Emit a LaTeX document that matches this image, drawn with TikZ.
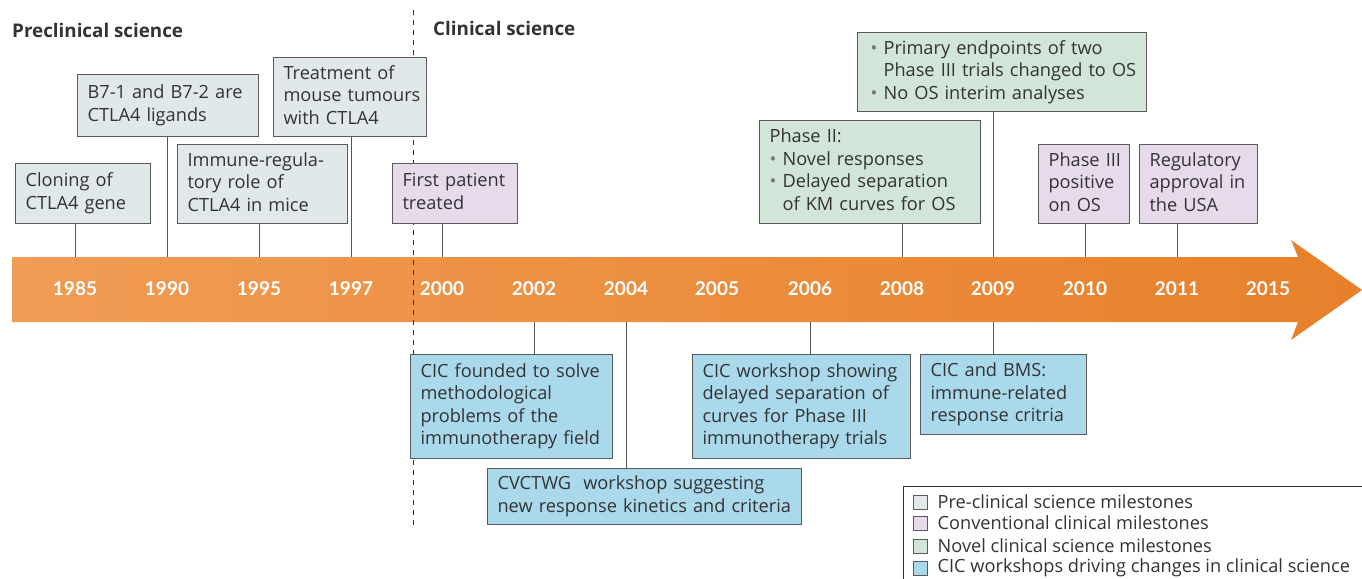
\documentclass[tikz,border=0pt]{standalone}
\usepackage{fontspec}
\setmainfont{Open Sans}
\newfontfamily\yearfam{Lato}
\usetikzlibrary{positioning}

\definecolor{preclin}{HTML}{E0E8E9}
\definecolor{conv}{HTML}{E6DAEB}
\definecolor{novel}{HTML}{D1E6D8}
\definecolor{cic}{HTML}{ABD9EC}
\definecolor{boxline}{HTML}{5A5A5A}
\definecolor{txtgray}{HTML}{333333}
\definecolor{stemgray}{HTML}{555555}
\definecolor{bulgray}{HTML}{777777}
\definecolor{bandL}{HTML}{F09C55}
\definecolor{bandR}{HTML}{E8802A}

\newcommand{\boxfont}{\fontsize{18.2}{22.5}\selectfont}
\newcommand{\yearfont}{\yearfam\fontsize{19}{20}\selectfont\bfseries}
\newcommand{\bul}{\makebox[13pt][l]{\textcolor{bulgray}{\textbullet}}}
\newcommand{\lines}[1]{\noindent\begin{tabular}{@{}l@{}}#1\end{tabular}}

\tikzset{
  milebox/.style={draw=boxline, line width=1.1pt, anchor=north west, align=left,
    inner xsep=10pt, inner ysep=0pt, font=\boxfont, text=txtgray},
  stem/.style={draw=stemgray, line width=1pt},
  yearlab/.style={font=\yearfont, text=white, inner sep=0pt},
  header/.style={font=\fontsize{18.8}{20}\selectfont\bfseries, text=txtgray, anchor=west, inner sep=0pt},
  divider/.style={draw=txtgray, line width=0.9pt, dash pattern=on 5pt off 5pt},
  legsq/.style={draw=boxline, line width=0.9pt, minimum size=14pt, inner sep=0pt},
  legtext/.style={font=\boxfont, text=txtgray, inner sep=0pt, anchor=west}
}

\begin{document}
\begin{tikzpicture}[x=1pt,y=-1pt]
  \useasboundingbox (0,0) rectangle (1362,578);

  % Timeline band
  \shade[left color=bandL, right color=bandR]
    (12,257) -- (1298,257) -- (1291,240) -- (1362,290) -- (1291,340) -- (1298,322) -- (12,322) -- cycle;
  \coordinate (bandtop) at (0,257);
  \coordinate (bandbot) at (0,322);

  % Years
  \foreach \yr/\xx in {1985/75, 1990/167, 1995/259, 1997/351, 2000/442, 2002/534, 2004/626,
                       2005/717, 2006/810, 2008/902, 2009/993, 2010/1085, 2011/1177, 2015/1268}
    \node[yearlab] (y\yr) at (\xx,289) {\yr};

  % Divider and headings
  \coordinate (divtop) at (413,10);
  \coordinate (divbot) at (413,528);
  \draw[divider] (divtop) -- (divbot);
  \node[header] (prehd) at (12,30) {Preclinical science};
  \node[header] (clihd) at (433,28) {Clinical science};

  % Pre-clinical milestones
  \node[milebox, fill=preclin, text width=115, minimum height=60] (clon) at (15,163)
    {\lines{Cloning of\\CTLA4 gene}};
  \node[milebox, fill=preclin, text width=161, minimum height=62] (ligd) at (77,74)
    {\lines{B7-1 and B7-2 are\\CTLA4 ligands}};
  \node[milebox, fill=preclin, text width=150, minimum height=79] (immu) at (177,144)
    {\lines{Immune-regula-\\tory role of\\CTLA4 in mice}};
  \node[milebox, fill=preclin, text width=133, minimum height=79] (trtm) at (273,57)
    {\lines{Treatment of\\mouse tumours\\with CTLA4}};

  % Conventional clinical milestones
  \node[milebox, fill=conv, text width=105, minimum height=60] (frst) at (392,163)
    {\lines{First patient\\treated}};
  \node[milebox, fill=conv, text width=71, minimum height=79] (ph3) at (1038,144)
    {\lines{Phase III\\positive\\on OS}};
  \node[milebox, fill=conv, text width=98, minimum height=79] (regu) at (1139,144)
    {\lines{Regulatory\\approval in\\the USA}};

  % Novel clinical science milestones
  \node[milebox, fill=novel, text width=201, minimum height=103] (ph2) at (759,120)
    {\lines{Phase II:\\\bul Novel responses\\\bul Delayed separation\\\hspace*{13pt}of KM curves for OS}};
  \node[milebox, fill=novel, inner xsep=13pt, text width=263, minimum height=79] (prim) at (857,32)
    {\lines{\bul Primary endpoints of two\\\hspace*{13pt}Phase III trials changed to OS\\\bul No OS interim analyses}};

  % CIC workshops
  \node[milebox, fill=cic, text width=182, minimum height=104] (cicf) at (410,354)
    {\lines{CIC founded to solve\\methodological\\problems of the\\immunotherapy field}};
  \node[milebox, fill=cic, text width=294, minimum height=56] (cvct) at (487,468)
    {\lines{CVCTWG\ \ workshop suggesting\\new response kinetics and criteria}};
  \node[milebox, fill=cic, text width=198, minimum height=104] (cicw) at (692,354)
    {\lines{CIC workshop showing\\delayed separation of\\curves for Phase III\\immunotherapy trials}};
  \node[milebox, fill=cic, text width=146, minimum height=80] (cicb) at (920,354)
    {\lines{CIC and BMS:\\immune-related\\response critria}};

  % Stems above the band
  \draw[stem] (clon.south -| y1985) -- (bandtop -| y1985);
  \draw[stem] (ligd.south -| y1990) -- (bandtop -| y1990);
  \draw[stem] (immu.south -| y1995) -- (bandtop -| y1995);
  \draw[stem] (trtm.south -| y1997) -- (bandtop -| y1997);
  \draw[stem] (frst.south -| y2000) -- (bandtop -| y2000);
  \draw[stem] (ph2.south -| y2008) -- (bandtop -| y2008);
  \draw[stem] (prim.south -| y2009) -- (bandtop -| y2009);
  \draw[stem] (ph3.south -| y2010) -- (bandtop -| y2010);
  \draw[stem] (regu.south -| y2011) -- (bandtop -| y2011);

  % Stems below the band
  \draw[stem] (bandbot -| y2002) -- (cicf.north -| y2002);
  \draw[stem] (bandbot -| y2004) -- (cvct.north -| y2004);
  \draw[stem] (bandbot -| y2006) -- (cicw.north -| y2006);
  \draw[stem] (bandbot -| y2009) -- (cicb.north -| y2009);

  % Legend
  \node[draw=txtgray, line width=1pt, anchor=north west, minimum width=480, minimum height=110] (legend) at (903,486) {};
  \foreach \yy/\col/\txt [count=\i] in {502/preclin/Pre-clinical science milestones,
                                        523/conv/Conventional clinical milestones,
                                        546/novel/Novel clinical science milestones,
                                        568/cic/CIC workshops driving changes in clinical science} {
    \node[legsq, fill=\col] (lsq\i) at (920,\yy) {};
    \node[legtext, right=10pt of lsq\i] (ltx\i) {\txt};
  }

\end{tikzpicture}
\end{document}
